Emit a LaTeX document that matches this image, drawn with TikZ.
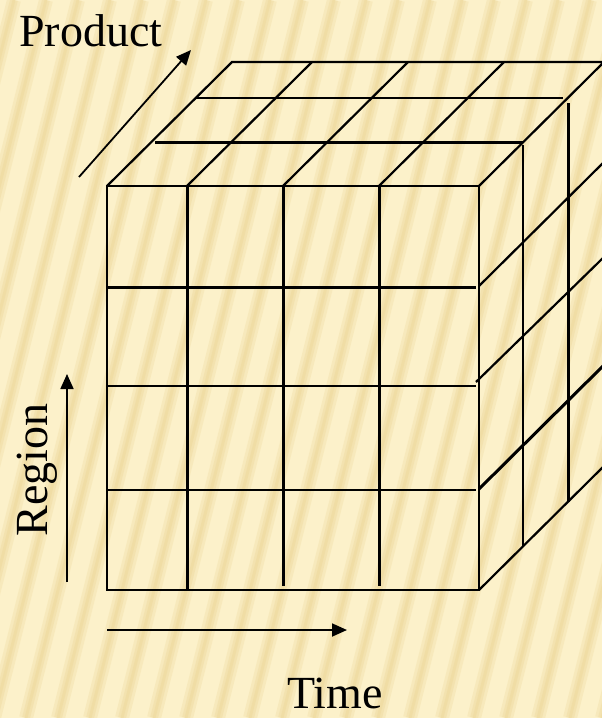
\documentclass[tikz,border=0pt]{standalone}
\usepackage{fontspec}
\setmainfont{Liberation Serif}
\usetikzlibrary{arrows.meta}
\definecolor{bgbase}{RGB}{252,241,202}
\definecolor{bgstripe}{RGB}{236,213,148}
\begin{document}
\begin{tikzpicture}[x=1pt,y=-1pt,
  edge/.style={line width=2.2pt,black},
  bold/.style={line width=3pt,black},
  axisarrow/.style={line width=1.8pt,black,-{Triangle[length=15pt,width=13pt]}},
  lbl/.style={font=\fontsize{46}{50}\selectfont,inner sep=0pt,text=black}]
\useasboundingbox (0,0) rectangle (602,718);
\fill[bgbase] (0,0) rectangle (602,718);
\begin{scope}
\clip (0,0) rectangle (602,718);
% background stripes (soft)
\foreach \s in {-230,-198,...,640}{
  \draw[bgstripe,line width=14pt,opacity=0.25] (\s,718) -- (\s+180,0);
  \draw[bgstripe,line width=8pt,opacity=0.3] (\s,718) -- (\s+180,0);
  \draw[bgstripe,line width=3pt,opacity=0.35] (\s,718) -- (\s+180,0);
}
% cube corners
\coordinate (FTL) at (107,186);
\coordinate (FTR) at (479,186);
\coordinate (FBL) at (107,590);
\coordinate (FBR) at (479,590);
\coordinate (BTL) at (232,62);
\coordinate (BTR) at (604,62);
\coordinate (BBR) at (604,466);
% front face
\draw[edge] (FTL) rectangle (FBR);
\draw[bold] (187,186) -- (187,590);
\draw[bold] (283,186) -- (283,586);
\draw[bold] (379,186) -- (379,586);
\draw[bold] (107,287) -- (476,287);
\draw[edge] (107,386) -- (476,386);
\draw[edge] (107,490) -- (476,490);
% top face
\draw[edge] (FTL) -- (BTL) -- (BTR) -- (FTR);
\draw[edge] (187,186) -- (312,62);
\draw[edge] (283,186) -- (408,62);
\draw[edge] (379,186) -- (504,62);
\draw[edge] (196,98) -- (563,98);
\draw[bold] (155,142) -- (523,142);
% right face
\draw[edge] (523,145) -- (523,546);
\draw[bold] (568,103) -- (568,502);
\draw[edge] (479,286) -- (604,162);
\draw[edge] (476,382) -- (604,257);
\draw[bold] (479,489) -- (604,365);
\draw[edge] (FBR) -- (BBR);
\end{scope}
% axes
\coordinate (pA) at (79,177);
\coordinate (pB) at (191,50);
\coordinate (rA) at (67,582);
\coordinate (rB) at (67,374);
\coordinate (tA) at (107,630);
\coordinate (tB) at (347,630);
\draw[axisarrow] (pA) -- (pB);
\draw[axisarrow] (rA) -- (rB);
\draw[axisarrow] (tA) -- (tB);
\node[lbl,anchor=base west] (product) at (19,46) {Product};
\node[lbl,anchor=base,rotate=90] (region) at (47,470) {Region};
\node[lbl,anchor=base] (time) at (335,708) {Time};
\end{tikzpicture}
\end{document}
